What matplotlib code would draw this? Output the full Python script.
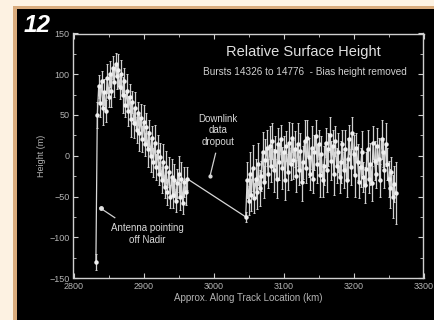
import matplotlib
matplotlib.use("Agg")
import matplotlib.pyplot as plt
from matplotlib.patches import Rectangle
from matplotlib.ticker import MultipleLocator

# ---- data (along-track km, relative height m, error m) ----
x_left = [2832, 2834, 2836, 2838, 2840, 2842, 2844, 2846, 2848, 2850, 2852, 2854,
          2856, 2858, 2860, 2862, 2864, 2866, 2868, 2870, 2872, 2874, 2876, 2878,
          2880, 2882, 2884, 2886, 2888, 2890, 2892, 2894, 2896, 2898, 2900, 2902,
          2904, 2906, 2908, 2910, 2912, 2914, 2916, 2918, 2920, 2922, 2924, 2926,
          2928, 2930, 2932, 2934, 2936, 2938, 2940, 2942, 2944, 2946, 2948, 2950,
          2952, 2954, 2956, 2958, 2960, 2962]
y_left = [-130, 50, 85, 65, 92, 58, 78, 55, 95, 72, 100, 80,
          108, 90, 112, 98, 105, 84, 100, 75, 92, 62, 80, 55,
          72, 45, 66, 40, 58, 32, 52, 28, 46, 20, 42, 14,
          35, 8, 28, 0, 22, -8, 16, -14, 6, -22, -2, -30,
          -8, -38, -14, -44, -20, -50, -26, -48, -30, -55, -34, -22,
          -50, -28, -58, -32, -45, -28]
e_left = [10, 16, 14, 18, 12, 20, 16, 14, 18, 12, 16, 20,
          14, 18, 14, 16, 20, 14, 18, 22, 16, 14, 20, 18,
          16, 22, 14, 18, 20, 16, 14, 22, 18, 16, 20, 14,
          18, 22, 16, 20, 14, 18, 22, 16, 20, 14, 18, 16,
          22, 14, 20, 16, 18, 14, 22, 16, 20, 14, 18, 22,
          16, 20, 14, 18, 16, 14]

x_right = [3046, 3048, 3050, 3052, 3054, 3056, 3058, 3060, 3062, 3064, 3066, 3068,
           3070, 3072, 3074, 3076, 3078, 3080, 3082, 3084, 3086, 3088, 3090, 3092,
           3094, 3096, 3098, 3100, 3102, 3104, 3106, 3108, 3110, 3112, 3114, 3116,
           3118, 3120, 3122, 3124, 3126, 3128, 3130, 3132, 3134, 3136, 3138, 3140,
           3142, 3144, 3146, 3148, 3150, 3152, 3154, 3156, 3158, 3160, 3162, 3164,
           3166, 3168, 3170, 3172, 3174, 3176, 3178, 3180, 3182, 3184, 3186, 3188,
           3190, 3192, 3194, 3196, 3198, 3200, 3202, 3204, 3206, 3208, 3210, 3212,
           3214, 3216, 3218, 3220, 3222, 3224, 3226, 3228, 3230, 3232, 3234, 3236,
           3238, 3240, 3242, 3244, 3246, 3248, 3250, 3252, 3254, 3256, 3258, 3260]
y_right = [-75, -30, -55, -22, -48, -15, -52, -28, -45, -10, -40, -25,
           5, -32, -5, 10, -22, 12, -12, 18, -18, 6, -28, 14,
           -8, 20, -15, 4, -30, 12, -20, 16, -10, 22, -5, 8,
           -25, 14, -18, 6, -32, -8, 18, -15, 22, -2, -22, 10,
           -28, 4, 24, -10, 14, -24, 2, -30, -12, 16, -18, 8,
           26, -6, 12, -22, 18, -12, 4, -26, -8, 14, -18, 8,
           -30, -4, 20, -14, 28, 2, -24, 10, -8, -32, -14, 4,
           -26, -36, -16, 8, -28, -10, -34, 16, -6, -22, 12, -4,
           -30, 20, 4, -18, 14, -10, -28, -40, -20, -50, -35, -46]
e_right = [6, 22, 18, 26, 20, 28, 18, 24, 20, 26, 22, 18,
           24, 20, 26, 22, 18, 24, 20, 22, 26, 18, 24, 20,
           22, 18, 26, 20, 24, 18, 22, 26, 20, 18, 24, 22,
           20, 26, 18, 22, 24, 20, 26, 18, 22, 24, 20, 26,
           18, 22, 20, 24, 18, 26, 22, 20, 24, 18, 26, 20,
           22, 24, 20, 26, 18, 22, 24, 20, 26, 18, 22, 24,
           20, 26, 18, 22, 20, 24, 26, 18, 22, 20, 24, 26,
           18, 22, 20, 24, 18, 26, 22, 20, 24, 18, 22, 26,
           20, 24, 18, 22, 26, 20, 22, 24, 18, 26, 22, 38]

x_all = x_left + x_right
y_all = y_left + y_right
e_all = e_left + e_right

title = "Relative Surface Height"
subtitle = "Bursts 14326 to 14776  - Bias height removed"
xlabel = "Approx. Along Track Location (km)"
ylabel = "Height (m)"
x_ticks = [2800, 2900, 3000, 3100, 3200, 3300]
y_ticks = [-150, -100, -50, 0, 50, 100, 150]

plt.rcParams['font.family'] = ['Liberation Sans', 'DejaVu Sans']

W, H = 435, 320
fig = plt.figure(figsize=(W / 100, H / 100), dpi=100)
fig.patch.set_facecolor('#fdf2e2')

# tan border and black panel (behind the axes)
fig.patches.append(Rectangle((13 / W, 0), 1, 1 - 6 / H, transform=fig.transFigure,
                             facecolor='#d9ab7c', edgecolor='none', zorder=-3))
fig.patches.append(Rectangle((17 / W, 0), 1, 1 - 9 / H, transform=fig.transFigure,
                             facecolor='black', edgecolor='none', zorder=-2))

fig.text(24 / W, 1 - 25 / H, "12", color='white', fontsize=17.5,
         fontweight='bold', fontstyle='italic', va='center', ha='left')

ax = fig.add_axes([73.5 / W, 42 / H, 350 / W, 244.5 / H])
ax.set_facecolor('black')
tc = '#b4b4b4'
for s in ax.spines.values():
    s.set_color('#cfcfcf')
    s.set_linewidth(1.0)

ax.errorbar(x_all, y_all, yerr=e_all, fmt='-o', color='#d8d8d8', lw=0.9,
            ms=2.2, mfc='#f0f0f0', mec='#f0f0f0', elinewidth=0.9, capsize=1.0,
            capthick=0.7, ecolor='#d0d0d0')

ax.set_xlim(2800, 3300)
ax.set_ylim(-150, 150)
ax.set_xticks(x_ticks)
ax.set_yticks(y_ticks)
ax.xaxis.set_minor_locator(MultipleLocator(50))
ax.yaxis.set_minor_locator(MultipleLocator(25))
ax.tick_params(which='both', direction='in', top=True, right=True,
               colors='#cfcfcf', labelcolor=tc, labelsize=6.5, pad=3)
ax.tick_params(which='major', length=3.5, width=0.8)
ax.tick_params(which='minor', length=2, width=0.6)

ax.set_xlabel(xlabel, color=tc, fontsize=7, labelpad=1)
ax.set_ylabel(ylabel, color=tc, fontsize=6.5, labelpad=2)

ax.text(3128, 127, title, color='#e0e0e0', fontsize=10.5, ha='center', va='center')
ax.text(3131, 103, subtitle, color='#d0d0d0', fontsize=7.2, ha='center', va='center')

ax.text(3006, 31, "Downlink\ndata\ndropout", color='#d8d8d8', fontsize=7,
        ha='center', va='center', linespacing=1.2)
ax.plot([3003, 2995], [3, -25], color='#d0d0d0', lw=0.9)
ax.plot([2995], [-25], 'o', color='#d8d8d8', ms=2)

ax.text(2906, -96, "Antenna pointing\noff Nadir", color='#d8d8d8', fontsize=7,
        ha='center', va='center', linespacing=1.2)
ax.plot([2838, 2859], [-64, -76], color='#d0d0d0', lw=0.9)
ax.plot([2839], [-64.5], 'o', color='#e0e0e0', ms=2.5)

fig.savefig('out.png', dpi=100, facecolor=fig.get_facecolor())
